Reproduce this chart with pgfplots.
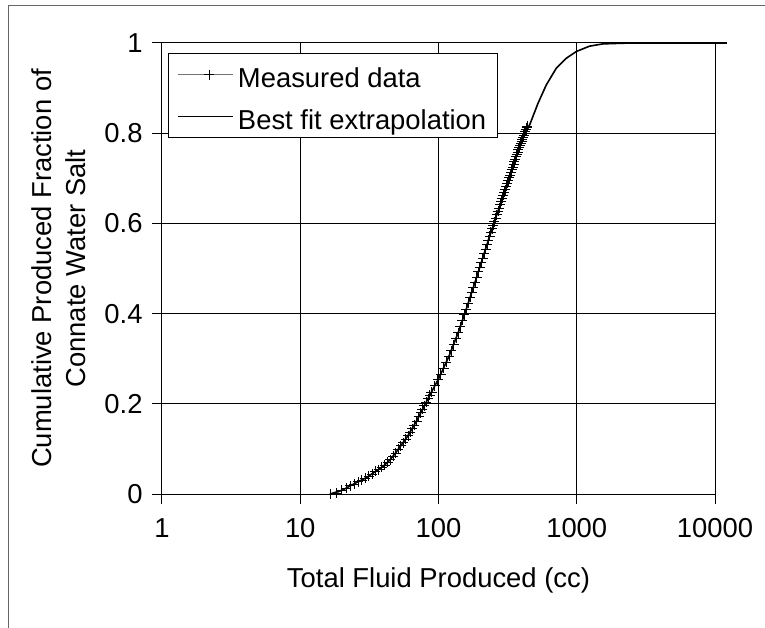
\documentclass[border=0pt]{standalone}
\usepackage{pgfplots}
\pgfplotsset{compat=1.18}
\usepackage{fontspec}
\setmainfont{Liberation Sans}
\newcommand{\cf}{\fontsize{27.5}{34}\selectfont}

\pgfplotstableread{
x y
16.4 0.000
18.4 0.002
20.0 0.008
21.5 0.013
23.0 0.018
24.6 0.022
26.2 0.027
27.8 0.031
29.5 0.035
31.3 0.040
33.1 0.044
35.0 0.050
36.9 0.054
38.8 0.059
40.8 0.064
42.8 0.070
44.9 0.076
47.0 0.084
49.1 0.091
51.2 0.099
53.4 0.107
55.6 0.114
57.8 0.121
60.1 0.129
62.4 0.137
64.7 0.145
67.0 0.153
69.4 0.162
71.8 0.171
74.2 0.180
76.6 0.188
79.0 0.196
81.5 0.204
84.0 0.211
86.5 0.219
89.0 0.226
94.0 0.240
99.0 0.253
104 0.266
109 0.279
114 0.292
119 0.305
124 0.318
129 0.331
134 0.345
139 0.358
144 0.371
149 0.385
154 0.398
159 0.410
164 0.423
169 0.436
174 0.448
179 0.459
184 0.470
189 0.481
194 0.493
199 0.503
204 0.513
209 0.523
214 0.533
219 0.543
224 0.553
229 0.563
234 0.571
239 0.580
244 0.588
249 0.596
254 0.604
259 0.612
264 0.619
269 0.627
274 0.634
279 0.642
284 0.649
289 0.656
294 0.663
299 0.669
304 0.675
309 0.682
314 0.689
319 0.695
324 0.701
329 0.707
334 0.713
339 0.719
344 0.725
349 0.731
354 0.737
359 0.742
364 0.748
369 0.753
374 0.758
379 0.764
384 0.769
389 0.773
394 0.778
399 0.782
404 0.787
409 0.791
414 0.796
419 0.800
424 0.804
429 0.808
434 0.812
439 0.815
}\measured

\pgfplotstableread{
x y
16.4 0.000
20 0.008
25 0.024
30 0.036
35 0.050
40 0.062
45 0.077
50 0.095
60 0.129
70 0.164
80 0.199
90 0.229
100 0.255
120 0.308
140 0.361
160 0.413
180 0.461
200 0.505
230 0.564
260 0.613
300 0.670
350 0.731
400 0.783
460 0.821
524 0.866
602 0.907
711 0.944
839 0.966
991 0.981
1237 0.993
1545 0.998
1928 0.999
2500 1.000
12200 1.000
}\fit

\begin{document}
\begin{tikzpicture}
\useasboundingbox (-162bp,-134bp) rectangle (603bp,494bp);
\draw[black!60, line width=1bp] (-153.5bp,-140bp) -- (-153.5bp,488bp) -- (610bp,488bp);
\begin{axis}[
  at={(0,0)}, anchor=south west,
  scale only axis,
  width=553bp, height=451bp,
  xmode=log,
  xmin=1, xmax=10000, ymin=0, ymax=1,
  axis x line=bottom, axis y line=left,
  axis line style={-, line width=1bp},
  xtick={1,10,100,1000,10000},
  xticklabels={1,10,100,1000,10000},
  ytick={0,0.2,0.4,0.6,0.8,1},
  yticklabels={0,0.2,0.4,0.6,0.8,1},
  xminorticks=false,
  tick align=outside,
  major tick length=10bp,
  tick style={line width=1bp, black},
  grid=major,
  major grid style={line width=1bp, black},
  tick label style={font=\cf},
  x tick label style={yshift=-11bp},
  y tick label style={xshift=-6bp},
  xlabel={Total Fluid Produced (cc)},
  ylabel={Cumulative Produced Fraction of\\Connate Water Salt},
  every axis x label/.style={at={(axis description cs:0.5,0)}, anchor=center, yshift=-86bp, font=\cf},
  every axis y label/.style={at={(axis description cs:0,0.5)}, rotate=90, anchor=center, yshift=103.5bp, align=center, font=\cf},
  clip=false,
  legend cell align=left,
  legend style={at={(axis description cs:0,1)}, anchor=north west, xshift=6bp, yshift=-10bp,
    draw=black, line width=0.8bp, fill=white, font=\cf,
    inner xsep=9bp, inner ysep=6.7bp, row sep=13bp,
    nodes={inner sep=2bp, text height=25bp, text depth=0bp},
    /tikz/every odd column/.style={column sep=2bp}},
  legend image code/.code={%
    \path (0bp,0bp) -- (55bp,0bp);
    \draw[mark repeat=2,mark phase=2,#1] plot coordinates {(7bp,0bp) (31bp,0bp) (55bp,0bp)};},
]
\addplot[black!55, line width=0.8bp, mark=+, mark size=5bp, mark options={black, line width=0.8bp, solid}] table[x=x,y=y] {\measured};
\addlegendentry{Measured data}
\addplot[black, line width=1.6bp, no marks] table[x=x,y=y] {\fit};
\addlegendentry{Best fit extrapolation}
\end{axis}
\end{tikzpicture}
\end{document}
